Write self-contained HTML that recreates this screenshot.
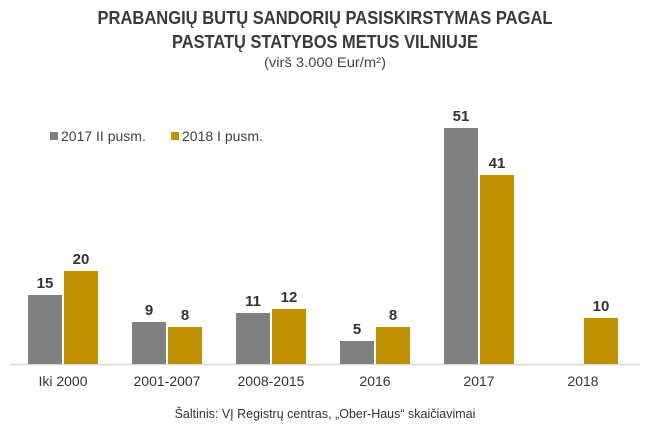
<!DOCTYPE html>
<html><head><meta charset="utf-8"><style>
html,body{margin:0;padding:0;background:#fff;}
svg{display:block;font-family:"Liberation Sans Narrow","Liberation Sans",sans-serif;}
</style></head><body>
<svg width="650" height="432" viewBox="0 0 650 432" xmlns="http://www.w3.org/2000/svg">
<rect width="650" height="432" fill="#fff"/>
<g fill="#3a3a3a" font-weight="bold" font-size="18" text-anchor="middle">
<text x="325" y="24" textLength="455" lengthAdjust="spacingAndGlyphs">PRABANGIŲ BUTŲ SANDORIŲ PASISKIRSTYMAS PAGAL</text>
<text x="325" y="48" textLength="306" lengthAdjust="spacingAndGlyphs">PASTATŲ STATYBOS METUS VILNIUJE</text>
</g>
<text x="325" y="67" font-size="14" fill="#444" text-anchor="middle" textLength="122" lengthAdjust="spacingAndGlyphs">(virš 3.000 Eur/m²)</text>
<rect x="50" y="132" width="8" height="8" fill="#808080"/>
<text x="61" y="141" font-size="14" fill="#404040">2017 II pusm.</text>
<rect x="171" y="132" width="8" height="8" fill="#bf9000"/>
<text x="182" y="141" font-size="14" fill="#404040">2018 I pusm.</text>
<line x1="10" y1="364.5" x2="640" y2="364.5" stroke="#d9d9d9" stroke-width="1.5"/>
<g>
<rect x="28" y="295" width="34" height="69" fill="#808080"/>
<rect x="64" y="271" width="34" height="93" fill="#bf9000"/>
<rect x="132" y="322" width="34" height="42" fill="#808080"/>
<rect x="168" y="327" width="34" height="37" fill="#bf9000"/>
<rect x="236" y="313" width="34" height="51" fill="#808080"/>
<rect x="272" y="309" width="34" height="55" fill="#bf9000"/>
<rect x="340" y="341" width="34" height="23" fill="#808080"/>
<rect x="376" y="327" width="34" height="37" fill="#bf9000"/>
<rect x="444" y="128" width="34" height="236" fill="#808080"/>
<rect x="480" y="175" width="34" height="189" fill="#bf9000"/>
<rect x="584" y="318" width="34" height="46" fill="#bf9000"/>
</g>
<g font-size="15" font-weight="bold" fill="#333" text-anchor="middle">
<text x="45" y="288">15</text><text x="81" y="264">20</text>
<text x="149" y="315">9</text><text x="185" y="320">8</text>
<text x="253" y="306">11</text><text x="289" y="302">12</text>
<text x="357" y="334">5</text><text x="393" y="320">8</text>
<text x="461" y="121">51</text><text x="497" y="168">41</text>
<text x="601" y="311">10</text>
</g>
<g font-size="14" fill="#333" text-anchor="middle">
<text x="63" y="386">Iki 2000</text>
<text x="167" y="386">2001-2007</text>
<text x="271" y="386">2008-2015</text>
<text x="375" y="386">2016</text>
<text x="479" y="386">2017</text>
<text x="583" y="386">2018</text>
</g>
<text x="325" y="418" font-size="12.5" fill="#333" text-anchor="middle">Šaltinis: VĮ Registrų centras, „Ober-Haus“ skaičiavimai</text>
</svg>
</body></html>
